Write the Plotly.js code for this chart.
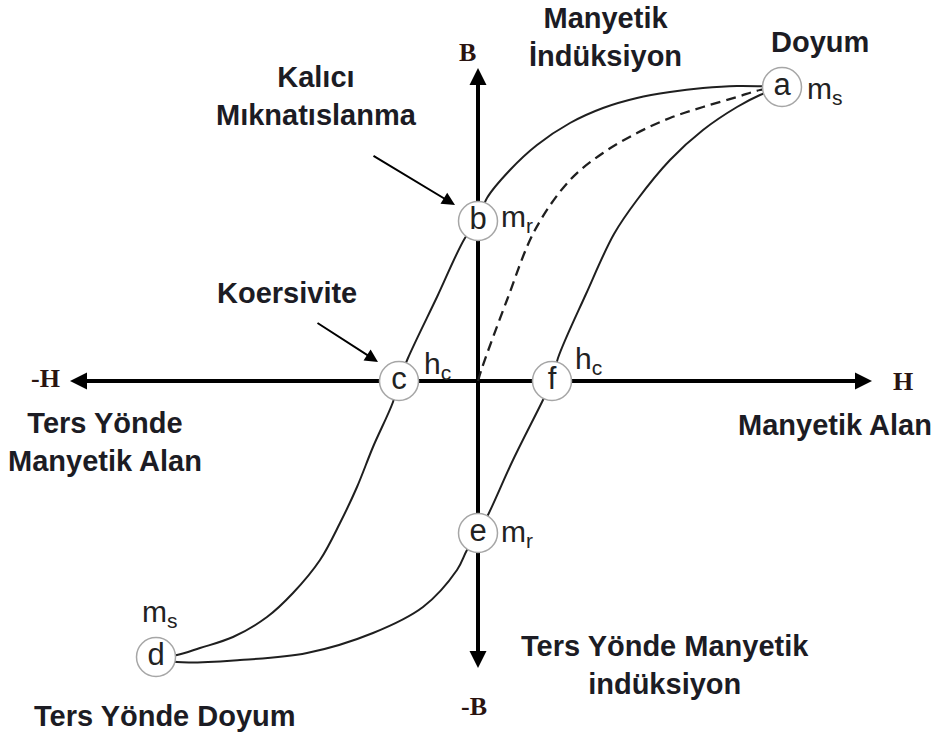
<!DOCTYPE html>
<html>
<head>
<meta charset="utf-8">
<script src="https://cdn.plot.ly/plotly-3.0.1.min.js"></script>
<style>
  html, body { margin: 0; padding: 0; background: #ffffff; }
  #chart { width: 937px; height: 734px; }
</style>
</head>
<body>
<div id="chart"></div>
<script>
// Hysteresis loop: magnetic field H (horizontal) against magnetic induction B (vertical).

// Descending branch: saturation a -> remanence b -> coercivity c -> reverse saturation d
const upperH = [304, 259, 225, 192, 159, 125, 92, 59, 32, 9, 0, -13, -41, -70, -79, -85, -105, -121, -138, -158, -185, -211, -245, -278, -301, -322];
const upperB = [294, 295, 293, 289, 283, 273, 258, 236, 211, 183, 160, 143, 84, 23, 0, -21, -66, -106, -142, -179, -212, -236, -256, -267, -274, -276];

// Ascending branch: reverse saturation d -> e -> f -> saturation a
const lowerH = [-322, -301, -238, -171, -105, -55, -21, -11, 0, 9, 35, 64, 74, 80, 108, 136, 159, 192, 225, 259, 282, 304];
const lowerB = [-276, -281, -279, -272, -252, -226, -189, -169, -152, -136, -79, -21, 0, 23, 87, 147, 181, 221, 251, 274, 286, 294];

// Initial magnetization curve from the demagnetized origin to saturation
const initH = [0, 4, 29, 57, 92, 125, 159, 192, 225, 259, 282, 304];
const initB = [0, 13, 81, 151, 201, 228, 248, 263, 274, 284, 291, 294];

// Labelled points on the loop
const pointNames = ['a', 'b', 'c', 'd', 'e', 'f'];
const pointH = [304, 0, -79, -322, 0, 74];
const pointB = [294, 160, 0, -276, -152, 0];

// Axis extents (arrow tips)
const hMin = -408, hMax = 394;
const bMin = -287, bMax = 313;

// Callout arrows: [tailH, headH], [tailB, headB]
const remanenceArrowH = [-106, -23], remanenceArrowB = [226, 176];
const coercivityArrowH = [-162, -100], coercivityArrowB = [59, 19];

const ink = '#1f1f1f';
const labelInk = '#1c1c24';
const serifInk = '#2a1410';
const sans = 'Liberation Sans, Arial, sans-serif';
const serif = 'Liberation Serif, Times New Roman, serif';

const traces = [
  {
    x: upperH, y: upperB, type: 'scatter', mode: 'lines',
    line: { color: ink, width: 2, shape: 'spline', smoothing: 1 },
    hoverinfo: 'skip'
  },
  {
    x: lowerH, y: lowerB, type: 'scatter', mode: 'lines',
    line: { color: ink, width: 2, shape: 'spline', smoothing: 1 },
    hoverinfo: 'skip'
  },
  {
    x: initH, y: initB, type: 'scatter', mode: 'lines',
    line: { color: ink, width: 2.3, dash: '10px,6px', shape: 'spline', smoothing: 1 },
    hoverinfo: 'skip'
  },
  {
    x: pointH, y: pointB, type: 'scatter', mode: 'markers+text',
    text: pointNames, textposition: 'middle center',
    textfont: { family: sans, size: 31, color: '#222' },
    marker: { symbol: 'circle', size: 39, color: '#ffffff', line: { color: '#a6a6a6', width: 1.5 } },
    hoverinfo: 'skip'
  }
];

function label(text, x, y, opts) {
  return Object.assign({
    text: text, x: x, y: y, xref: 'x', yref: 'y',
    showarrow: false, xanchor: 'center', yanchor: 'middle',
    font: { family: sans, size: 29, color: labelInk }
  }, opts || {});
}

function sub(text, x, y) {
  return label(text, x, y, { xanchor: 'left', font: { family: sans, size: 30, color: '#222' } });
}

function serifLabel(text, x, y) {
  return label('<b>' + text + '</b>', x, y, { font: { family: serif, size: 26, color: serifInk } });
}

// Arrow head drawn at (x, y), its short shaft pointing back towards (ax, ay)
function arrow(x, y, ax, ay, width, size) {
  return {
    x: x, y: y, ax: ax, ay: ay, xref: 'x', yref: 'y', axref: 'x', ayref: 'y',
    text: '', showarrow: true, arrowhead: 2, arrowsize: size, arrowwidth: width,
    arrowcolor: '#000', standoff: 0
  };
}

const annotations = [
  label('<b>Manyetik<br>İndüksiyon</b>', 127, 344),
  label('<b>Doyum</b>', 342, 339),
  label('<b>Kalıcı<br>Mıknatıslanma</b>', -162, 285),
  label('<b>Koersivite</b>', -191, 88),
  label('<b>Ters Yönde<br>Manyetik Alan</b>', -373, -61),
  label('<b>Manyetik Alan</b>', 357, -44),
  label('<b>Ters Yönde Manyetik<br>indüksiyon</b>', 187, -284),
  label('<b>Ters Yönde Doyum</b>', -313, -335),

  serifLabel('B', -11, 329),
  serifLabel('-B', -4, -325),
  serifLabel('-H', -433, 3),
  serifLabel('H', 425, 0),

  sub('m<sub>s</sub>', 327, 291),
  sub('m<sub>r</sub>', 21, 163),
  sub('h<sub>c</sub>', -56, 16),
  sub('h<sub>c</sub>', 95, 21),
  sub('m<sub>r</sub>', 21, -152),
  sub('m<sub>s</sub>', -338, -232),

  arrow(hMax, 0, hMax - 30, 0, 4, 0.85),
  arrow(hMin, 0, hMin + 30, 0, 4, 0.85),
  arrow(0, bMax, 0, bMax - 30, 4, 0.85),
  arrow(0, bMin, 0, bMin + 30, 4, 0.85),

  arrow(remanenceArrowH[1], remanenceArrowB[1], remanenceArrowH[0], remanenceArrowB[0], 2, 1.3),
  arrow(coercivityArrowH[1], coercivityArrowB[1], coercivityArrowH[0], coercivityArrowB[0], 2, 1.3)
];

// Axis shafts sit beneath the curves and the point circles
const shapes = [
  { type: 'line', xref: 'x', yref: 'y', x0: hMin + 10, x1: hMax - 10, y0: 0, y1: 0,
    line: { color: '#000', width: 4 }, layer: 'below' },
  { type: 'line', xref: 'x', yref: 'y', x0: 0, x1: 0, y0: bMin + 10, y1: bMax - 10,
    line: { color: '#000', width: 4 }, layer: 'below' }
];

const layout = {
  width: 937, height: 734,
  margin: { l: 0, r: 0, t: 0, b: 0, pad: 0 },
  paper_bgcolor: '#ffffff', plot_bgcolor: '#ffffff',
  showlegend: false,
  xaxis: { range: [-478, 459], visible: false, fixedrange: true },
  yaxis: { range: [-353, 381], visible: false, fixedrange: true },
  annotations: annotations,
  shapes: shapes
};

Plotly.newPlot('chart', traces, layout, { staticPlot: true, displayModeBar: false });
</script>
</body>
</html>
